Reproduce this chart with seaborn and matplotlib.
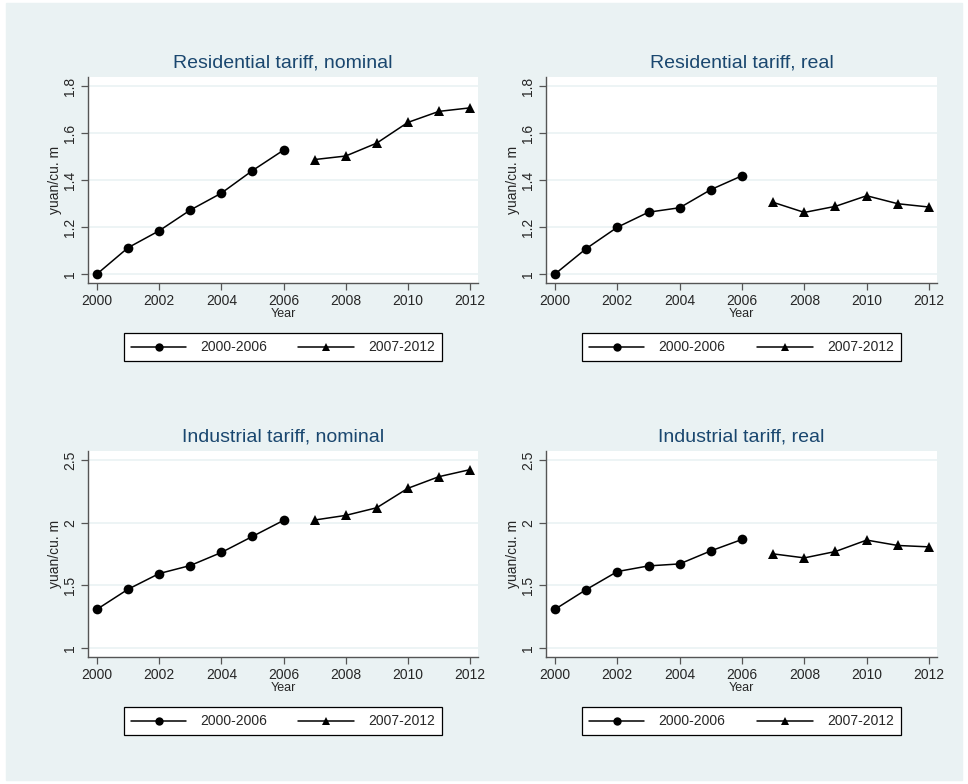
import numpy as np
import pandas as pd
import matplotlib
matplotlib.use("Agg")
import matplotlib.pyplot as plt
from matplotlib.lines import Line2D
from matplotlib.patches import Rectangle
import seaborn as sns

years = list(range(2000, 2013))
periods = ["2000-2006"] * 7 + ["2007-2012"] * 6

res_nominal = [1.00, 1.112, 1.184, 1.272, 1.344, 1.440, 1.527,
               1.487, 1.502, 1.557, 1.645, 1.692, 1.707]
res_real = [1.00, 1.108, 1.199, 1.263, 1.282, 1.359, 1.418,
            1.305, 1.262, 1.288, 1.333, 1.299, 1.285]
ind_nominal = [1.309, 1.469, 1.594, 1.658, 1.762, 1.890, 2.018,
               2.021, 2.058, 2.119, 2.274, 2.367, 2.423]
ind_real = [1.309, 1.466, 1.610, 1.655, 1.671, 1.775, 1.866,
            1.751, 1.719, 1.770, 1.861, 1.818, 1.807]

titles = ["Residential tariff, nominal", "Residential tariff, real",
          "Industrial tariff, nominal", "Industrial tariff, real"]
xticks = [2000, 2002, 2004, 2006, 2008, 2010, 2012]
res_yticks = [1, 1.2, 1.4, 1.6, 1.8]
ind_yticks = [1, 1.5, 2, 2.5]

df = pd.DataFrame({"year": years, "period": periods,
                   "res_nominal": res_nominal, "res_real": res_real,
                   "ind_nominal": ind_nominal, "ind_real": ind_real})

bg = "#EAF2F3"
navy = "#1A476F"

sns.set_style("white")
plt.rcParams["font.family"] = ["Liberation Sans", "DejaVu Sans"]

W, H = 968, 784
fig = plt.figure(figsize=(W / 100, H / 100), dpi=100, facecolor="white")
fig.patches.append(Rectangle((6 / W, 4 / H), 1 - 12 / W, 1 - 7 / H,
                             transform=fig.transFigure, color=bg, zorder=-10))

# axes boxes in pixels: left, top, right, bottom
boxes = [(88, 77, 478, 283), (546, 77, 937, 283),
         (88, 451, 478, 657), (546, 451, 937, 657)]
cols = ["res_nominal", "res_real", "ind_nominal", "ind_real"]

for i, (col, title, (l, t, r, b)) in enumerate(zip(cols, titles, boxes)):
    ax = fig.add_axes([l / W, 1 - b / H, (r - l) / W, (b - t) / H])
    ax.set_facecolor("white")
    sns.lineplot(data=df, x="year", y=col, style="period",
                 markers=["o", "^"], dashes=False, color="black",
                 markersize=7, linewidth=1.1, markeredgewidth=0,
                 legend=False, ax=ax)
    if i < 2:
        yt = res_yticks
        ylab = ["1", "1.2", "1.4", "1.6", "1.8"]
        lo, hi = 1.0, 1.8
    else:
        yt = ind_yticks
        ylab = ["1", "1.5", "2", "2.5"]
        lo, hi = 1.0, 2.5
    pad = (hi - lo) * 9 / 188
    ax.set_ylim(lo - pad, hi + pad)
    ax.set_xlim(2000 - 9 / 31.08, 2012 + 8 / 31.08)
    ax.set_yticks(yt)
    ax.set_yticklabels(ylab, rotation=90, va="center")
    ax.set_xticks(xticks)
    ax.set_xticklabels([str(x) for x in xticks])
    ax.grid(axis="y", color=bg, linewidth=1.2)
    ax.grid(axis="x", visible=False)
    ax.set_axisbelow(True)
    for s in ["top", "right"]:
        ax.spines[s].set_visible(False)
    for s in ["left", "bottom"]:
        ax.spines[s].set_color("#555555")
        ax.spines[s].set_linewidth(1.0)
    ax.tick_params(axis="both", direction="out", length=5, width=0.9,
                   color="#555555", labelsize=10, pad=3, left=True, bottom=True)
    ax.set_xlabel("Year", fontsize=9, labelpad=0)
    ax.set_ylabel("yuan/cu. m", fontsize=10, labelpad=1)
    ax.set_title(title, fontsize=14, color=navy, pad=7)

    handles = [Line2D([], [], color="black", marker="o", markersize=6,
                      markeredgewidth=0, linewidth=1.1),
               Line2D([], [], color="black", marker="^", markersize=6,
                      markeredgewidth=0, linewidth=1.1)]
    leg = ax.legend(handles, ["2000-2006", "2007-2012"], ncol=2,
                    loc="center", bbox_to_anchor=(0.092, -0.383, 0.815, 0.141),
                    mode="expand", fontsize=10, handlelength=4,
                    handletextpad=1.0, columnspacing=2.5, frameon=True,
                    fancybox=False, borderpad=0.5, borderaxespad=0)
    leg.get_frame().set_edgecolor("black")
    leg.get_frame().set_linewidth(0.9)
    leg.get_frame().set_facecolor("white")
    leg.get_frame().set_alpha(1)

fig.savefig("out.png", dpi=100, facecolor=fig.get_facecolor())
